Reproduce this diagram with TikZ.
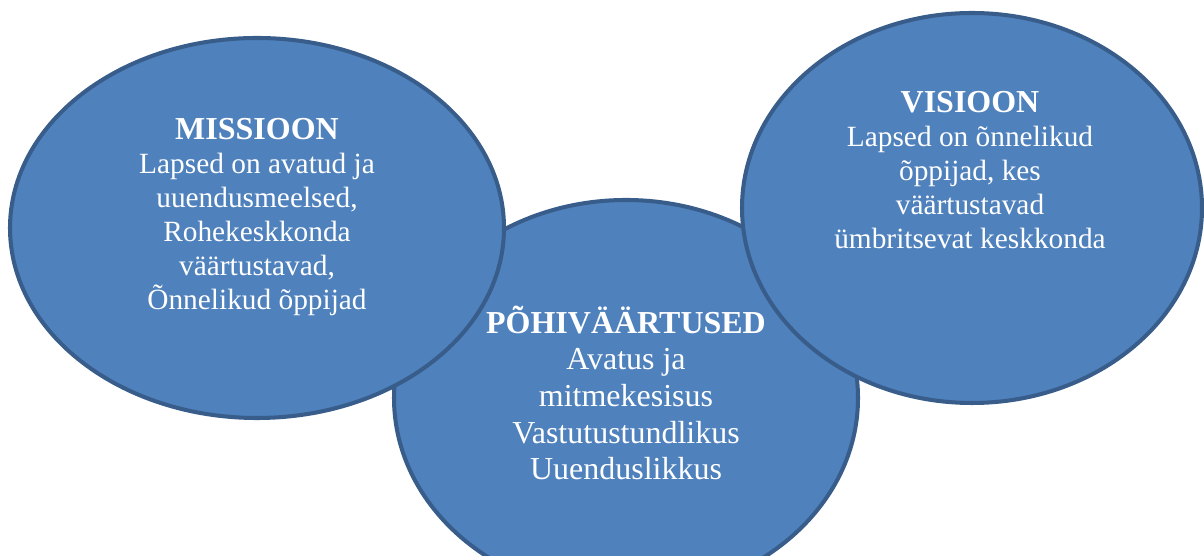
\documentclass[tikz,border=0pt]{standalone}
\usepackage{fontspec}
\setmainfont{Liberation Serif}
\definecolor{ovalfill}{HTML}{4F81BD}
\definecolor{ovalline}{HTML}{385D8A}
\newcommand{\ovalhead}[1]{{\fontsize{18.2}{19.4}\selectfont\bfseries #1}}
\tikzset{
  oval/.style={fill=ovalfill, draw=ovalline, line width=2.3pt},
  ovaltext/.style={text=white, align=center, anchor=base, inner sep=0pt,
    font=\fontsize{16.7}{19.4}\selectfont}
}

\begin{document}
\begin{tikzpicture}
  \useasboundingbox (0,0) rectangle (24.08,11.12);
  % middle one lies behind the other two
  \draw[oval] (12.52,3.16) ellipse [x radius=4.64, y radius=3.96];
  \draw[oval] (5.14,6.56) ellipse [x radius=4.94, y radius=3.80];
  \draw[oval] (19.44,6.96) ellipse [x radius=4.60, y radius=3.90];
  % base anchor sits on the last line
  \node[ovaltext] (missioon) at (5.14,4.92)
    {\ovalhead{MISSIOON}\\Lapsed on avatud ja\\uuendusmeelsed,\\Rohekeskkonda\\väärtustavad,\\Õnnelikud õppijad};
  \node[ovaltext, font=\fontsize{18.2}{20.9}\selectfont] (pohivaartused) at (12.52,1.52)
    {\ovalhead{PÕHIVÄÄRTUSED}\\Avatus ja\\mitmekesisus\\Vastutustundlikus\\Uuenduslikkus};
  \node[ovaltext] (visioon) at (19.40,6.14)
    {\ovalhead{VISIOON}\\Lapsed on õnnelikud\\õppijad, kes\\väärtustavad\\ümbritsevat keskkonda};
\end{tikzpicture}
\end{document}
